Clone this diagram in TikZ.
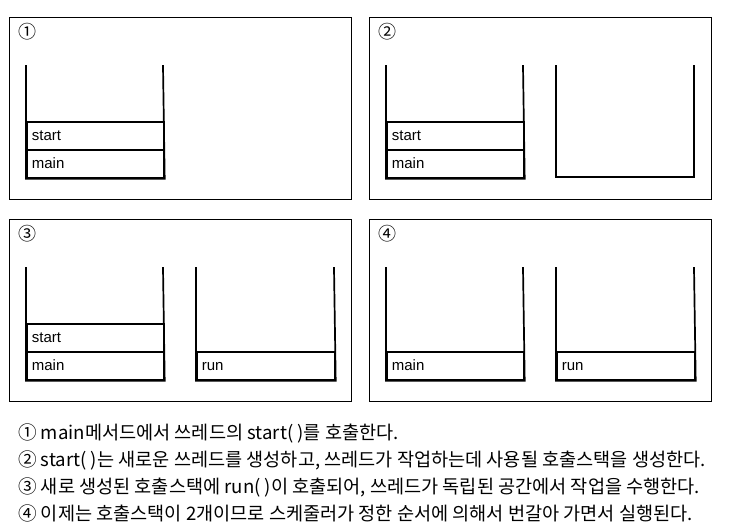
\documentclass[tikz,border=0pt]{standalone}
\usepackage{fontspec}
\setmainfont{Liberation Sans}
\newfontfamily\kr{Noto Sans CJK KR}
\tikzset{
  panel/.style={draw, line width=1.2pt, anchor=north west, minimum width=342pt, minimum height=182pt, inner sep=0pt},
  cell/.style={draw, line width=1.7pt, anchor=north west, inner xsep=5pt, inner ysep=0pt, text width=127pt, text height=11pt, text depth=2.5pt, align=left, minimum height=28pt, font=\fontsize{15}{16}\selectfont},
  wall/.style={line width=1.7pt, line cap=rect},
  num/.style={anchor=center, inner sep=0pt, font=\kr\fontsize{18}{19}\selectfont},
  desc/.style={anchor=base west, inner sep=0pt, font=\kr\fontsize{18.6}{20}\selectfont},
}
\begin{document}
\begin{tikzpicture}[x=1pt, y=-1pt]
\useasboundingbox (0,0) rectangle (738,531);
% panels
\node[panel] (P1) at (9,17) {};
\node[panel] (P2) at (369,17) {};
\node[panel] (P3) at (9,219) {};
\node[panel] (P4) at (369,219) {};
\node[num] (n1) at (27,32) {①};
\node[num] (n2) at (387,32) {②};
\node[num] (n3) at (27,234) {③};
\node[num] (n4) at (387,234) {④};
% panel 1
\coordinate (a1) at (26,66); \coordinate (b1) at (163,66);
\node[cell] (p1start) at (26,121) {start};
\node[cell] (p1main) at (26,149) {main};
\draw[wall] (a1) -- (p1main.south west) -- (p1main.south east) -- (b1);
% panel 2
\coordinate (a2) at (386,66); \coordinate (b2) at (523,66);
\node[cell] (p2start) at (386,121) {start};
\node[cell] (p2main) at (386,149) {main};
\draw[wall] (a2) -- (p2main.south west) -- (p2main.south east) -- (b2);
\coordinate (c2) at (556,66); \coordinate (d2) at (694,66);
\coordinate (e2) at (556,177); \coordinate (f2) at (694,177);
\draw[wall] (c2) -- (e2) -- (f2) -- (d2);
% panel 3
\coordinate (a3) at (26,268); \coordinate (b3) at (163,268);
\node[cell] (p3start) at (26,323) {start};
\node[cell] (p3main) at (26,351) {main};
\draw[wall] (a3) -- (p3main.south west) -- (p3main.south east) -- (b3);
\coordinate (c3) at (196,268); \coordinate (d3) at (334,268);
\node[cell, text width=128pt] (p3run) at (196,351) {run};
\draw[wall] (c3) -- (p3run.south west) -- (p3run.south east) -- (d3);
% panel 4
\coordinate (a4) at (386,268); \coordinate (b4) at (523,268);
\node[cell] (p4main) at (386,351) {main};
\draw[wall] (a4) -- (p4main.south west) -- (p4main.south east) -- (b4);
\coordinate (c4) at (556,268); \coordinate (d4) at (694,268);
\node[cell, text width=128pt] (p4run) at (556,351) {run};
\draw[wall] (c4) -- (p4run.south west) -- (p4run.south east) -- (d4);
% descriptions
\node[desc] (t1) at (18,439) {① main메서드에서 쓰레드의 start( )를 호출한다.};
\node[desc] (t2) at (18,466) {② start( )는 새로운 쓰레드를 생성하고, 쓰레드가 작업하는데 사용될 호출스택을 생성한다.};
\node[desc] (t3) at (18,493) {③ 새로 생성된 호출스택에 run( )이 호출되어, 쓰레드가 독립된 공간에서 작업을 수행한다.};
\node[desc] (t4) at (18,520) {④ 이제는 호출스택이 2개이므로 스케줄러가 정한 순서에 의해서 번갈아 가면서 실행된다.};
\end{tikzpicture}
\end{document}
